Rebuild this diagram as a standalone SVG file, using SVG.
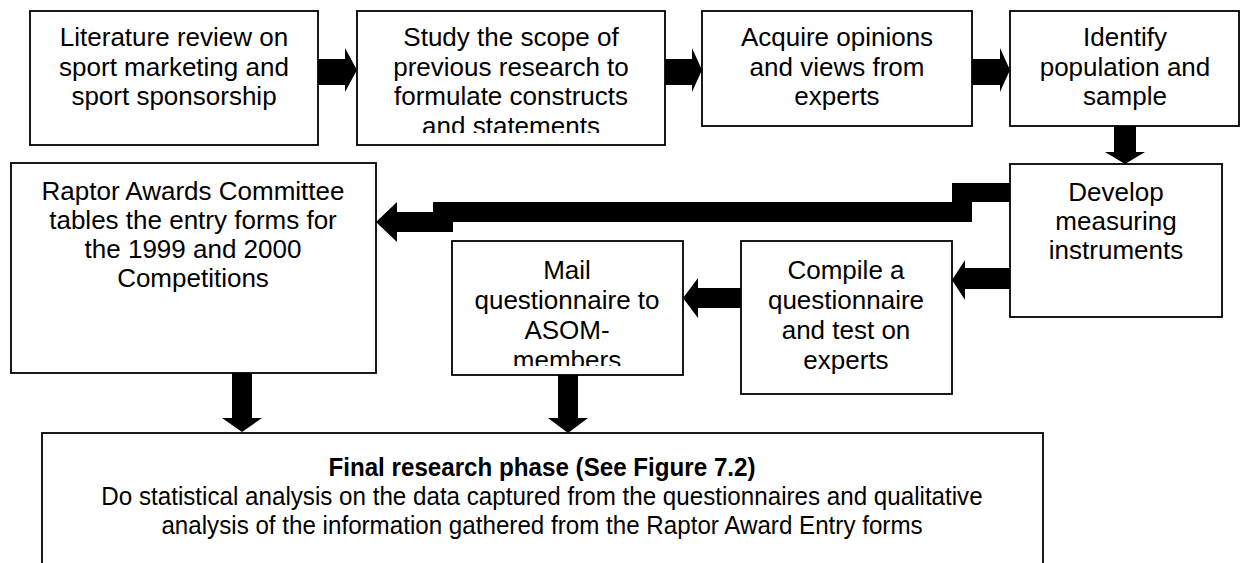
<svg xmlns="http://www.w3.org/2000/svg" width="1241" height="563" viewBox="0 0 1241 563">
  <style>
    .box { fill: #ffffff; stroke: #000000; stroke-width: 1.8; }
    .lbl { font-family: "Liberation Sans", Arial, sans-serif; font-size: 26px; fill: #000000; text-anchor: middle; }
    .bold { font-weight: bold; }
    .arrow { fill: #000000; stroke: none; }
  </style>
  <defs>
    <!-- text areas that cut off overflowing last lines -->
    <clipPath id="clip-study"><rect x="357" y="11" width="308" height="122"/></clipPath>
    <clipPath id="clip-mail"><rect x="452" y="241" width="231" height="125"/></clipPath>
  </defs>
  <rect width="1241" height="563" fill="#ffffff"/>

  <!-- connectors (block arrows) -->
  <g id="connectors">
    <!-- top row, left to right -->
    <path class="arrow" d="M318,59 H345 V48 L357,70 L345,92 V85 H318 Z"/>
    <path class="arrow" d="M665,59 H692 V48 L702,70 L692,92 V85 H665 Z"/>
    <path class="arrow" d="M972,59 H1000 V48 L1010,70 L1000,92 V85 H972 Z"/>
    <!-- identify down to develop -->
    <path class="arrow" d="M1114,126 H1136 V152 H1145 L1125,164 L1105,152 H1114 Z"/>
    <!-- develop to raptor committee, stepped bar -->
    <path class="arrow" d="M1010,183 H952 V202 H433 V212 H397 V202 L376,222 L397,242 V232 H453 V222 H972 V202 H1010 Z"/>
    <!-- develop to compile -->
    <path class="arrow" d="M1010,268 H965 V260 L952,280 L965,300 V289 H1010 Z"/>
    <!-- compile to mail -->
    <path class="arrow" d="M741,288 H698 V278 L683,298 L698,318 V308 H741 Z"/>
    <!-- down arrows into final phase -->
    <path class="arrow" d="M232,373 H252 V418 H262 L242,432 L222,418 H232 Z"/>
    <path class="arrow" d="M558,375 H578 V418 H588 L568,433 L548,418 H558 Z"/>
  </g>

  <g id="literature">
    <rect class="box" x="30" y="11" width="288" height="134"/>
    <text class="lbl"><tspan x="174" y="46">Literature review on</tspan><tspan x="174" y="75.5">sport marketing and</tspan><tspan x="174" y="105">sport sponsorship</tspan></text>
  </g>

  <g id="study">
    <rect class="box" x="357" y="11" width="308" height="134"/>
    <text class="lbl" clip-path="url(#clip-study)"><tspan x="511" y="46">Study the scope of</tspan><tspan x="511" y="75.5">previous research to</tspan><tspan x="511" y="105">formulate constructs</tspan><tspan x="511" y="134.5">and statements</tspan></text>
  </g>

  <g id="acquire">
    <rect class="box" x="702" y="11" width="270" height="115"/>
    <text class="lbl"><tspan x="837" y="46">Acquire opinions</tspan><tspan x="837" y="75.5">and views from</tspan><tspan x="837" y="105">experts</tspan></text>
  </g>

  <g id="identify">
    <rect class="box" x="1010" y="11" width="229" height="115"/>
    <text class="lbl"><tspan x="1125" y="46">Identify</tspan><tspan x="1125" y="75.5">population and</tspan><tspan x="1125" y="105">sample</tspan></text>
  </g>

  <g id="develop">
    <rect class="box" x="1010" y="164" width="212" height="153"/>
    <text class="lbl"><tspan x="1116" y="201">Develop</tspan><tspan x="1116" y="230">measuring</tspan><tspan x="1116" y="259">instruments</tspan></text>
  </g>

  <g id="raptor">
    <rect class="box" x="11" y="163" width="365" height="210"/>
    <text class="lbl"><tspan x="193" y="200">Raptor Awards Committee</tspan><tspan x="193" y="229">tables the entry forms for</tspan><tspan x="193" y="258">the 1999 and 2000</tspan><tspan x="193" y="287">Competitions</tspan></text>
  </g>

  <g id="mail">
    <rect class="box" x="452" y="241" width="231" height="134"/>
    <text class="lbl" clip-path="url(#clip-mail)"><tspan x="567" y="279">Mail</tspan><tspan x="567" y="309">questionnaire to</tspan><tspan x="567" y="339">ASOM-</tspan><tspan x="567" y="369">members</tspan></text>
  </g>

  <g id="compile">
    <rect class="box" x="741" y="241" width="211" height="153"/>
    <text class="lbl"><tspan x="846" y="279">Compile a</tspan><tspan x="846" y="309">questionnaire</tspan><tspan x="846" y="339">and test on</tspan><tspan x="846" y="369">experts</tspan></text>
  </g>

  <g id="final">
    <rect class="box" x="42" y="433" width="1001" height="170"/>
    <g transform="translate(542,0) scale(0.93,1)">
      <text class="lbl"><tspan class="bold" x="0" y="476">Final research phase (See Figure 7.2)</tspan><tspan x="0" y="505">Do statistical analysis on the data captured from the questionnaires and qualitative</tspan><tspan x="0" y="534">analysis of the information gathered from the Raptor Award Entry forms</tspan></text>
    </g>
  </g>
</svg>
